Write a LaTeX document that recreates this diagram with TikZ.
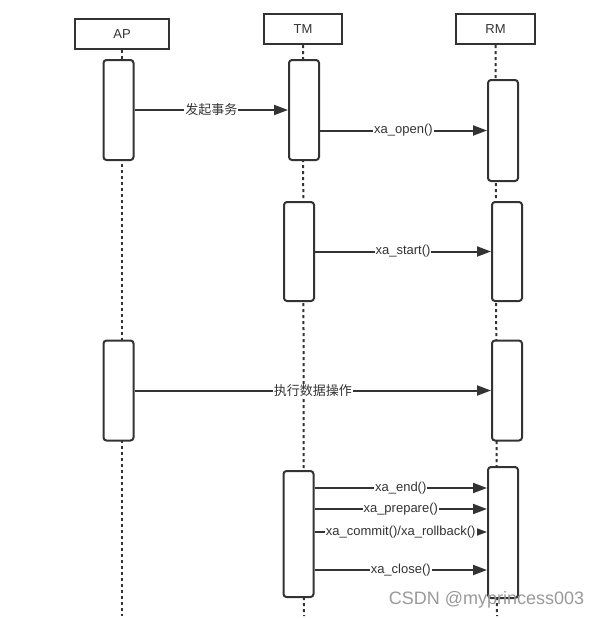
\documentclass[tikz,border=0pt]{standalone}
\usepackage{fontspec}
\setmainfont{Liberation Sans}
\newfontfamily\cjk{Noto Sans CJK SC}
\usetikzlibrary{arrows.meta}
\definecolor{ink}{HTML}{333333}
\begin{document}
\begin{tikzpicture}[x=1pt,y=-1pt,
    head/.style={draw=ink,line width=2pt,fill=white,minimum height=30pt,inner sep=0pt,text=ink,font=\fontsize{13}{15}\selectfont},
    act/.style={draw=ink,line width=2pt,fill=white,rounded corners=3pt,minimum width=30pt,inner sep=0pt},
    life/.style={draw=ink,line width=2pt,dash pattern=on 3pt off 3pt},
    msg/.style={draw=ink,line width=2pt,-{Triangle[length=14pt,width=10pt]}},
    lbl/.style={fill=white,inner sep=1pt,text=ink,font=\fontsize{13}{15}\selectfont}]
    \useasboundingbox (0,0) rectangle (601,619);

    %i partecipanti
    \node[head,minimum width=94pt] (ap) at (122,34) {AP};
    \node[head,minimum width=78pt] (tm) at (303,29) {TM};
    \node[head,minimum width=79pt] (rm) at (495.5,29) {RM};

    \coordinate (apend) at (122,616);
    \coordinate (tmend) at (304,616);
    \coordinate (rmend) at (497,616);

    \draw[life] (ap.south) -- (apend);
    \draw[life] (tm.south) -- (tmend);
    \draw[life] (rm.south) -- (rmend);

    %le barre di attivazione
    \node[act,minimum height=100pt] (ap1) at (118.5,110) {};
    \node[act,minimum height=100pt] (tm1) at (304,110) {};
    \node[act,minimum height=101pt] (rm1) at (503,130.5) {};
    \node[act,minimum height=99pt] (tm2) at (299,251.5) {};
    \node[act,minimum height=99pt] (rm2) at (507,251.5) {};
    \node[act,minimum height=100pt] (ap2) at (118.5,390.5) {};
    \node[act,minimum height=100pt] (rm3) at (507,390.5) {};
    \node[act,minimum height=126pt] (tm3) at (298.5,534) {};
    \node[act,minimum height=131pt] (rm4) at (503,532.5) {};

    %Ora i messaggi
    \draw[msg] (ap1.east) -- node[lbl] {\cjk 发起事务} (tm1.west |- ap1.east);
    \draw[msg] (tm1.east |- rm1.west) -- node[lbl] {xa\_open()} (rm1.west);
    \draw[msg] (tm2.east) -- node[lbl] {xa\_start()} (rm2.west);
    \draw[msg] (ap2.east) -- node[lbl] {\cjk 执行数据操作} (rm3.west);

    \foreach \y/\txt in {488/{xa\_end()},509/{xa\_prepare()},532/{xa\_commit()/xa\_rollback()},570/{xa\_close()}}
        \draw[msg] (tm3.east |- 0,\y) -- node[lbl] {\txt} (rm4.west |- 0,\y);

    \node[text=black!40,font=\fontsize{18}{20}\selectfont] (mark) at (486.5,600) {CSDN @myprincess003};
\end{tikzpicture}
\end{document}
